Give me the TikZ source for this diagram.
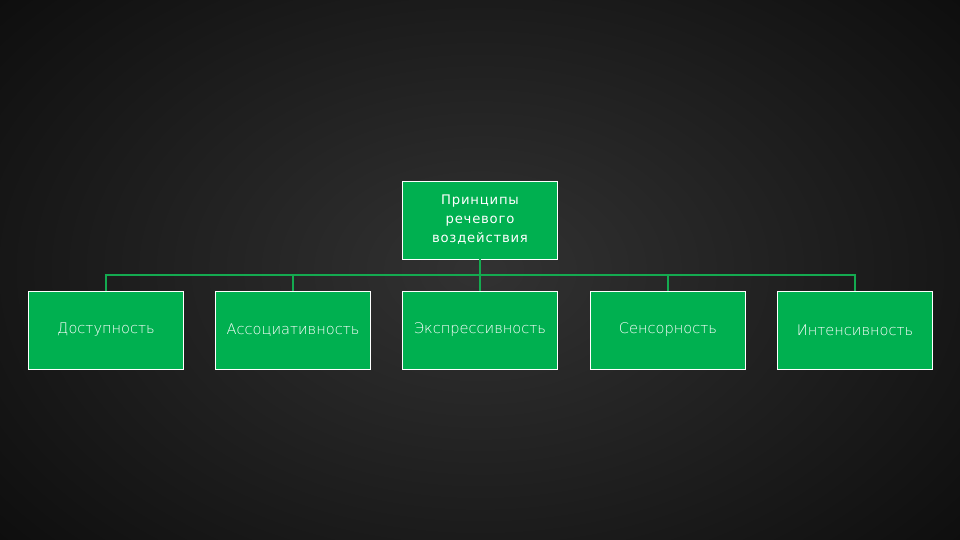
\documentclass[tikz,border=0pt]{standalone}
\usepackage{fontspec}
\setmainfont{DejaVu Sans}
\newfontfamily\thinfont{DejaVu Sans ExtraLight}
\definecolor{boxgreen}{RGB}{0,176,80}
\definecolor{linegreen}{RGB}{20,170,80}
\definecolor{bginner}{RGB}{50,50,50}
\definecolor{bgouter}{RGB}{14,14,14}
\begin{document}
\begin{tikzpicture}[x=1pt,y=-1pt,
  box/.style={draw=white,line width=0.9pt,fill=boxgreen,minimum width=155pt,minimum height=78pt,inner sep=2pt,text=white,font=\thinfont\fontsize{14.6}{16}\selectfont},
  topbox/.style={box,align=center,font=\fontsize{13.2}{19}\selectfont\addfontfeatures{LetterSpace=6}},
  conn/.style={draw=linegreen,line width=1.6pt}]
\useasboundingbox (0,0) rectangle (960,540);
\shade[inner color=bginner,outer color=bgouter] (-150,-150) rectangle (1110,690);
\node[topbox] (top) at (480,220) {Принципы\\речевого\\воздействия};
\node[box] (a) at (106,330) {Доступность};
\node[box] (b) at (293,330) {Ассоциативность};
\node[box] (c) at (480,330) {Экспрессивность};
\node[box] (d) at (668,330) {Сенсорность};
\node[box] (e) at (855,330) {Интенсивность};
\coordinate (bus) at (480,275);
\draw[conn] (top.south) -- (bus);
\draw[conn] (a.north) -- (a.north |- bus) -- (e.north |- bus) -- (e.north);
\draw[conn] (b.north) -- (b.north |- bus);
\draw[conn] (c.north) -- (c.north |- bus);
\draw[conn] (d.north) -- (d.north |- bus);
\end{tikzpicture}
\end{document}
